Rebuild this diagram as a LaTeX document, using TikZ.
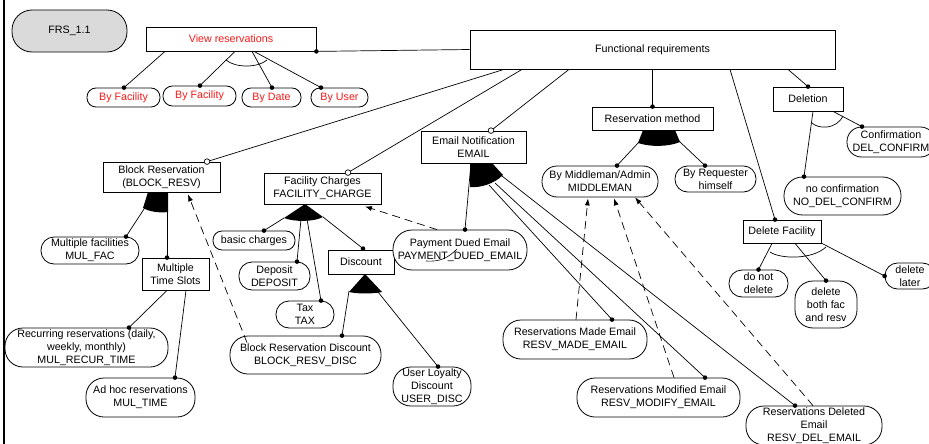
\documentclass[tikz,border=0pt]{standalone}
\usepackage{fontspec}
\setmainfont{Liberation Sans}
\usetikzlibrary{arrows.meta,calc}
\pgfdeclarelayer{bg}
\pgfdeclarelayer{fg}
\pgfsetlayers{bg,main,fg}
\definecolor{vred}{RGB}{250,25,25}
\definecolor{frsgrey}{RGB}{218,218,218}

\begin{document}
\begin{tikzpicture}[x=1pt,y=-1pt,line width=0.8pt,
  every node/.style={font=\fontsize{10.7}{13}\selectfont,align=center,inner sep=0pt},
  box/.style={draw,fill=white,rectangle},
  pill/.style={draw,fill=white,rounded corners=#1},
  link/.style={line width=0.7pt},
  dep/.style={line width=0.7pt,dash pattern=on 8pt off 5pt,-{Latex[length=7pt,width=5pt]}},
  orarc/.style={line width=0.7pt},
  mand/.style={fill=black},
  opt/.style={draw,fill=white,line width=0.7pt},
]
\useasboundingbox (0,0) rectangle (929,444);

% ---------- nodes ----------
\node[pill=20,fill=frsgrey,minimum width=115pt,minimum height=42pt] (frs) at (69.5,31) {FRS\_1.1};
\node[box,text=vred,minimum width=170pt,minimum height=24pt] (viewres) at (231,39) {View reservations};
\node[box,minimum width=365pt,minimum height=39pt] (fr) at (652.5,49.5) {Functional requirements};

\node[pill=9,text=vred,minimum width=73pt,minimum height=19pt] (byfacA) at (123.5,97.5) {By Facility};
\node[pill=9.5,text=vred,minimum width=73pt,minimum height=20pt] (byfacB) at (199.5,96) {By Facility};
\node[pill=9,text=vred,minimum width=59pt,minimum height=19pt] (bydate) at (271.5,97.5) {By Date};
\node[pill=9,text=vred,minimum width=57pt,minimum height=19pt] (byuser) at (339.5,97.5) {By User};

\node[box,minimum width=117pt,minimum height=30pt] (blockresv) at (161.5,177) {Block Reservation\\(BLOCK\_RESV)};
\node[pill=13,minimum width=98pt,minimum height=27pt] (mulfac) at (90,250.5) {Multiple facilities\\MUL\_FAC};
\node[box,minimum width=67pt,minimum height=32pt] (multime) at (175.5,274) {Multiple\\Time Slots};
\node[pill=18,minimum width=163pt,minimum height=39pt] (recur) at (86.5,347.5) {Recurring reservations (daily,\\weekly, monthly)\\MUL\_RECUR\_TIME};
\node[pill=18,minimum width=109pt,minimum height=39pt] (adhoc) at (140.5,397.5) {Ad hoc reservations\\MUL\_TIME};

\node[box,minimum width=117pt,minimum height=31pt] (faccharge) at (322.5,188.5) {Facility Charges\\FACILITY\_CHARGE};
\node[pill=9,minimum width=82pt,minimum height=19pt] (basic) at (254,240.5) {basic charges};
\node[pill=13,minimum width=71pt,minimum height=28pt] (deposit) at (274.5,276) {Deposit\\DEPOSIT};
\node[pill=13,minimum width=58pt,minimum height=27pt] (tax) at (305,314.5) {Tax\\TAX};
\node[box,minimum width=66pt,minimum height=24pt] (discount) at (361,262) {Discount};
\node[pill=18,minimum width=151pt,minimum height=38pt] (brdisc) at (305.5,355) {Block Reservation Discount\\BLOCK\_RESV\_DISC};
\node[pill=18,minimum width=78pt,minimum height=39pt] (userdisc) at (432,386.5) {User Loyalty\\Discount\\USER\_DISC};

\node[box,minimum width=105pt,minimum height=32pt] (email) at (473.5,147) {Email Notification\\EMAIL};
\node[pill=19,minimum width=134pt,minimum height=40pt] (payment) at (460,250) {Payment Dued Email\\PAYMENT\_DUED\_EMAIL};
\node[pill=18,minimum width=144pt,minimum height=39pt] (resvmade) at (575,339.5) {Reservations Made Email\\RESV\_MADE\_EMAIL};
\node[pill=18,minimum width=163pt,minimum height=39pt] (resvmod) at (658.5,397.5) {Reservations Modified Email\\RESV\_MODIFY\_EMAIL};
\node[pill=18,minimum width=136pt,minimum height=39pt] (resvdel) at (814,425.5) {Reservations Deleted\\Email\\RESV\_DEL\_EMAIL};

\node[box,minimum width=121pt,minimum height=23pt] (resmethod) at (652.5,118.5) {Reservation method};
\node[pill=15,minimum width=116pt,minimum height=31pt] (middleman) at (600,181.5) {By Middleman/Admin\\MIDDLEMAN};
\node[pill=12.5,minimum width=81pt,minimum height=26pt] (requester) at (715.5,179) {By Requester\\himself};

\node[box,minimum width=70pt,minimum height=24pt] (deletion) at (808,99) {Deletion};
\node[pill=14.5,minimum width=88pt,minimum height=30pt] (confirm) at (891,142) {Confirmation\\DEL\_CONFIRM};
\node[pill=18.5,minimum width=117pt,minimum height=38pt] (noconfirm) at (842.5,196) {no confirmation\\NO\_DEL\_CONFIRM};
\node[box,minimum width=78pt,minimum height=23pt] (delfac) at (782,231.5) {Delete Facility};
\node[pill=13,minimum width=59pt,minimum height=27pt] (donot) at (758.5,283.5) {do not\\delete};
\node[pill=18,minimum width=62pt,minimum height=47pt] (both) at (826,304.5) {delete\\both fac\\and resv};
\node[pill=12.5,minimum width=50pt,minimum height=26pt] (later) at (910,276) {delete\\later};

% ---------- corner points of the group fans ----------
\coordinate (brL) at (146,206);
\coordinate (fcL) at (284,218);
\coordinate (fcD) at (301,219);
\coordinate (fcT) at (307,219);
\coordinate (fcR) at (323,217);
\coordinate (dcL) at (349,291);
\coordinate (dcR) at (378,292);
\coordinate (emP) at (471,163);
\coordinate (emA) at (489,185);
\coordinate (emB) at (495,183);
\coordinate (emC) at (502,176);
\coordinate (rmL) at (639,142);
\coordinate (rmR) at (679,141);

\begin{pgfonlayer}{bg}
\fill[white] (0,0) rectangle (929,444);
% left frame edge
\draw[line width=2.5pt] (4,0) -- (4,444);

% filled (alternative) fans
\fill (148,192) -- (143,208) .. controls (150,212) and (160,213) .. (168,212) -- (168,192) -- cycle;
\fill (305,204) -- (284,218) .. controls (294,222) and (314,222) .. (323,217) -- cycle;
\fill (365,274) -- (349,292) .. controls (358,294) and (372,294) .. (382,292) -- cycle;
\fill (470,163) -- (470,187) .. controls (480,188) and (494,184) .. (503,175) -- (492,163) -- cycle;
\fill (643,130) -- (638,143) .. controls (650,147) and (668,147) .. (680,142) -- (675,130) -- cycle;

% open (or) arcs
\draw[orarc] (226,60) .. controls (235,68) and (258,68) .. (267,60);
\draw[orarc] (812,123) .. controls (818,129) and (836,130) .. (843,116);
\draw[orarc] (770,252) .. controls (780,259) and (812,260) .. (826,247);

% connectors
\draw[link] (fr.west) -- (viewres.south east);
\draw[link] ([xshift=-66pt]viewres.south) -- ([xshift=0.5pt]byfacA.north);
\draw[link] ([xshift=4pt]viewres.south) -- ([xshift=0.5pt]byfacB.north);
\draw[link] ([xshift=21pt]viewres.south) -- ([xshift=0.5pt]bydate.north);
\draw[link] ([xshift=23pt]viewres.south) -- ([xshift=-18.5pt]byuser.north);

\draw[link] ([xshift=-148.5pt]fr.south) -- ([xshift=45.5pt]blockresv.north);
\draw[link] ([xshift=-130.5pt]fr.south) -- ([xshift=25.5pt]faccharge.north);
\draw[link] ([xshift=-83.5pt]fr.south) -- ([xshift=17.5pt]email.north);
\draw[link] (fr.south) -- (resmethod.north);
\draw[link] ([xshift=77.5pt]fr.south) -- ([xshift=-7pt]delfac.north);
\draw[link] ([xshift=135.5pt]fr.south) -- (deletion.north);

\draw[link] (brL) -- ([xshift=36pt]mulfac.north);
\draw[link] ([xshift=5.5pt]blockresv.south) -- ([xshift=-8.5pt]multime.north);
\draw[link] ([xshift=-8.5pt]multime.south) -- ([xshift=42.5pt]recur.north);
\draw[link] ([xshift=10.5pt]multime.south) -- ([xshift=34.5pt]adhoc.north);

\draw[link] (fcL) -- ([xshift=10pt]basic.north);
\draw[link] (fcD) -- ([xshift=22.5pt]deposit.north);
\draw[link] (fcT) -- ([xshift=16pt]tax.north);
\draw[link] (fcR) -- ([xshift=2pt,yshift=1pt]discount.north);
\draw[link] (dcL) -- ([xshift=36.5pt]brdisc.north);
\draw[link] (dcR) -- ([xshift=6pt]userdisc.north);

\draw[link] (emP) -- ([xshift=5pt]payment.north);
\draw[link] (emA) -- ([xshift=37pt]resvmade.north);
\draw[link] (emB) -- ([xshift=46.5pt]resvmod.north);
\draw[link] (emC) -- ([xshift=-19pt]resvdel.north);

\draw[link] (rmL) -- ([xshift=17pt]middleman.north);
\draw[link] (rmR) -- ([xshift=-10.5pt]requester.north);

\draw[link] ([xshift=25pt]deletion.south) -- ([xshift=-29pt]confirm.north);
\draw[link] ([xshift=5pt]deletion.south) -- ([xshift=-38.5pt]noconfirm.north);
\draw[link] ([xshift=-10pt]delfac.south) -- (donot.north);
\draw[link] ([xshift=13pt]delfac.south) -- (both.north);
\draw[link] ([xshift=40pt]delfac.south) -- (later.west);
\end{pgfonlayer}

\begin{pgfonlayer}{fg}
% mandatory (filled) and optional (open) ends
\fill[mand] (viewres.south east) circle (2.3pt);
\fill[mand] ([xshift=0.5pt]byfacA.north) circle (2.3pt);
\fill[mand] ([xshift=0.5pt]byfacB.north) circle (2.3pt);
\fill[mand] ([xshift=0.5pt]bydate.north) circle (2.3pt);
\fill[mand] ([xshift=-18.5pt]byuser.north) circle (2.3pt);
\fill[mand] (resmethod.north) circle (2.3pt);
\fill[mand] ([xshift=-7pt]delfac.north) circle (2.3pt);
\fill[mand] (deletion.north) circle (2.3pt);
\fill[mand] ([xshift=36pt]mulfac.north) circle (2.3pt);
\fill[mand] ([xshift=-8.5pt]multime.north) circle (2.3pt);
\fill[mand] ([xshift=42.5pt]recur.north) circle (2.3pt);
\fill[mand] ([xshift=34.5pt]adhoc.north) circle (2.3pt);
\fill[mand] ([xshift=10pt]basic.north) circle (2.3pt);
\fill[mand] ([xshift=22.5pt]deposit.north) circle (2.3pt);
\fill[mand] ([xshift=16pt]tax.north) circle (2.3pt);
\fill[mand] ([xshift=2pt,yshift=1pt]discount.north) circle (2.3pt);
\fill[mand] ([xshift=36.5pt]brdisc.north) circle (2.3pt);
\fill[mand] ([xshift=6pt]userdisc.north) circle (2.3pt);
\fill[mand] ([xshift=5pt]payment.north) circle (2.3pt);
\fill[mand] ([xshift=37pt]resvmade.north) circle (2.3pt);
\fill[mand] ([xshift=46.5pt]resvmod.north) circle (2.3pt);
\fill[mand] ([xshift=-19pt]resvdel.north) circle (2.3pt);
\fill[mand] ([xshift=17pt]middleman.north) circle (2.3pt);
\fill[mand] ([xshift=-10.5pt]requester.north) circle (2.3pt);
\fill[mand] ([xshift=-29pt]confirm.north) circle (2.3pt);
\fill[mand] ([xshift=-38.5pt]noconfirm.north) circle (2.3pt);
\fill[mand] (donot.north) circle (2.3pt);
\fill[mand] (both.north) circle (2.3pt);
\fill[mand] (later.west) circle (2.3pt);

\draw[opt] ([xshift=45.5pt]blockresv.north) circle (2.8pt);
\draw[opt] ([xshift=25.5pt]faccharge.north) circle (2.8pt);
\draw[opt] ([xshift=17.5pt]email.north) circle (2.8pt);

% dependency arrows
\draw[dep] ([xshift=-58.5pt,yshift=-7pt]brdisc.north) -- ([xshift=26.5pt,yshift=-2pt]blockresv.south);
\draw[dep] ([xshift=-23pt]payment.north) -- ([xshift=42.5pt,yshift=-2pt]faccharge.south);
\draw[dep] ([xshift=1pt]resvmade.north) -- ([xshift=-12pt,yshift=-1pt]middleman.south);
\draw[dep] ([xshift=15.5pt]resvmod.north) -- ([xshift=14pt,yshift=-1pt]middleman.south);
\draw[dep] ([xshift=-1pt]resvdel.north) -- ([xshift=35pt]middleman.south);

% stray stroke across the payment label
\draw[line width=0.6pt] (426,261) .. controls (440,262) and (448,258) .. (457,249);
\end{pgfonlayer}
\end{tikzpicture}
\end{document}
